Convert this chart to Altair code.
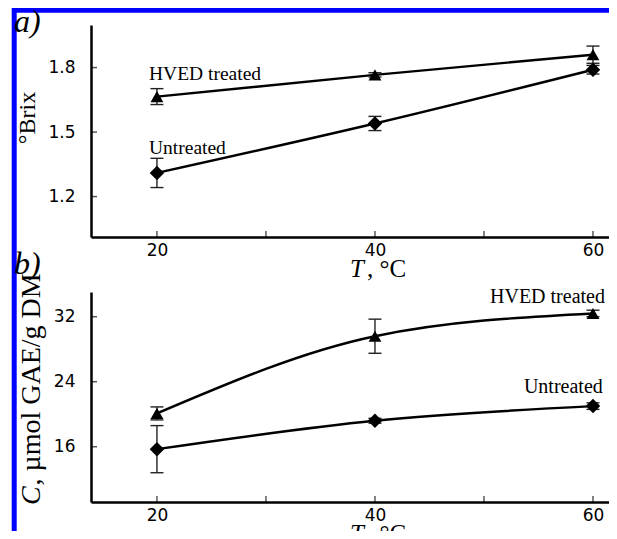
import altair as alt
import pandas as pd

# ---- data ----
temps = [20, 40, 60]
brix_hved = [1.665, 1.766, 1.86]
brix_hved_err = [0.037, 0.01, 0.04]
brix_untr = [1.31, 1.54, 1.79]
brix_untr_err = [0.068, 0.033, 0.02]
tpc_hved = [20.1, 29.6, 32.4]
tpc_hved_err = [0.8, 2.1, 0.4]
tpc_untr = [15.7, 19.2, 21.0]
tpc_untr_err = [2.9, 0.3, 0.4]

series = ["HVED treated", "Untreated"]
x_ticks = [20, 30, 40, 50, 60]
x_labels = [20, 40, 60]
brix_ticks = [1.2, 1.5, 1.8]
tpc_ticks = [16, 24, 32]

# annotation positions (data units)
a_lab_x = [19.27, 19.27]
a_lab_y = [1.743, 1.399]
b_lab_x = [61.1, 60.9]
b_lab_y = [33.69, 22.6]

W = 518
HA = 212
HB = 210

xs = alt.Scale(domain=[13.95, 61.47], nice=False, zero=False)
ys_a = alt.Scale(domain=[1.012, 1.998], nice=False, zero=False)
ys_b = alt.Scale(domain=[9.2, 35.04], nice=False, zero=False)

common_axis = dict(title=None, ticks=False, grid=False, domainColor="black",
                   domainWidth=2.5, labelFont="DejaVu Sans", labelFontSize=17,
                   labelColor="black")
xaxis = alt.Axis(values=x_labels, labelPadding=5, **common_axis)
yaxis_a = alt.Axis(values=brix_ticks, format=".1f", labelPadding=16, **common_axis)
yaxis_b = alt.Axis(values=tpc_ticks, format="d", labelPadding=16, **common_axis)


def frame(vals_h, err_h, vals_u, err_u):
    rows = []
    for s, vals, errs in ((series[0], vals_h, err_h), (series[1], vals_u, err_u)):
        for t, v, e in zip(temps, vals, errs):
            rows.append({"T": t, "v": v, "lo": v - e, "hi": v + e, "s": s})
    return pd.DataFrame(rows)


def panel(df, ys, yaxis, H, yticks, lab_x, lab_y, lab_align, lab_size):
    X = alt.X("T:Q", scale=xs, axis=xaxis)
    base = alt.Chart(df)
    line = base.mark_line(color="black", strokeWidth=2.4, interpolate="monotone").encode(
        x=X, y=alt.Y("v:Q", scale=ys, axis=yaxis), detail="s:N")
    err = base.mark_rule(color="#222222", strokeWidth=1.4).encode(
        x=X, y=alt.Y("lo:Q", scale=ys, axis=yaxis), y2="hi:Q")
    cap_lo = base.mark_tick(orient="horizontal", size=13, thickness=1.4, color="#222222", opacity=1).encode(
        x=X, y=alt.Y("lo:Q", scale=ys, axis=yaxis))
    cap_hi = base.mark_tick(orient="horizontal", size=13, thickness=1.4, color="#222222", opacity=1).encode(
        x=X, y=alt.Y("hi:Q", scale=ys, axis=yaxis))
    pts = base.mark_point(filled=True, opacity=1, color="black", strokeWidth=0).encode(
        x=X, y=alt.Y("v:Q", scale=ys, axis=yaxis),
        shape=alt.Shape("s:N", scale=alt.Scale(domain=series, range=["triangle-up", "diamond"]), legend=None),
        size=alt.Size("s:N", scale=alt.Scale(domain=series, range=[165, 210]), legend=None))
    xt = alt.Chart(pd.DataFrame({"T": x_ticks})).mark_tick(
        orient="vertical", size=6, thickness=1.4, color="black").encode(
        x=X, y=alt.value(H - 3))
    yt = alt.Chart(pd.DataFrame({"v": yticks})).mark_tick(
        orient="horizontal", size=6, thickness=1.4, color="black").encode(
        y=alt.Y("v:Q", scale=ys, axis=yaxis), x=alt.value(3))
    labs = alt.Chart(pd.DataFrame({"T": lab_x, "v": lab_y, "txt": series})).mark_text(
        font="Liberation Serif", fontSize=lab_size, align=lab_align, baseline="alphabetic",
        color="black").encode(x=X, y=alt.Y("v:Q", scale=ys, axis=yaxis), text="txt:N")
    return [line, err, cap_lo, cap_hi, pts, xt, yt, labs]


one = pd.DataFrame({"k": [0]})


def txt(text, x, y, size, style="normal", angle=0, align="left"):
    return alt.Chart(one).mark_text(
        text=text, font="Liberation Serif", fontSize=size, fontStyle=style,
        angle=angle, align=align, baseline="alphabetic", color="black").encode(
        x=alt.value(x), y=alt.value(y))


df_a = frame(brix_hved, brix_hved_err, brix_untr, brix_untr_err)
df_b = frame(tpc_hved, tpc_hved_err, tpc_untr, tpc_untr_err)

border = [
    alt.Chart(one).mark_rule(color="#0000ff", strokeWidth=5).encode(
        x=alt.value(-76.8), y=alt.value(-17), y2=alt.value(520)),
    alt.Chart(one).mark_rule(color="#0000ff", strokeWidth=5.4).encode(
        x=alt.value(-79), x2=alt.value(W), y=alt.value(-15)),
]

layers_a = border + panel(df_a, ys_a, yaxis_a, HA, brix_ticks, a_lab_x, a_lab_y, "left", 19.5) + [
    txt("a)", -77, 7, 32, "italic"),
    txt("°Brix", -56, 93, 24, angle=270, align="center"),
    txt("T", 259, 252, 25, "italic"),
    txt(", °C", 276, 252, 25),
]
layers_b = panel(df_b, ys_b, yaxis_b, HB, tpc_ticks, b_lab_x, b_lab_y, "right", 20) + [
    txt("b)", -77, -18, 32, "italic"),
    txt("C", -51, 213, 28, "italic", angle=270),
    txt(", µmol GAE/g DM", -51, 193.5, 28, angle=270),
    txt("T", 259, HB + 40, 25, "italic"),
    txt(", °C", 276, HB + 40, 25),
]

pa = alt.layer(*layers_a).properties(width=W, height=HA)
pb = alt.layer(*layers_b).properties(width=W, height=HB)

chart = alt.vconcat(pa, pb, spacing=55, bounds="flush").properties(
    autosize=alt.AutoSizeParams(type="none"),
    padding={"left": 83, "top": 17, "right": 0, "bottom": 506},
    background="white",
).configure_view(stroke=None)

chart.save("out.html", embed_options={"renderer": "svg", "actions": False})
